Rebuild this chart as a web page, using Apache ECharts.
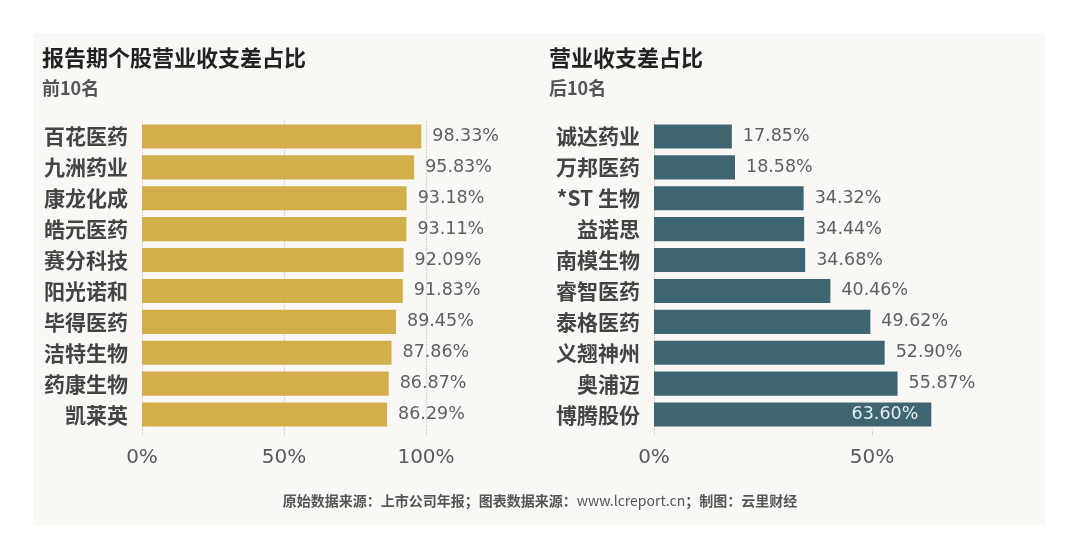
<!DOCTYPE html>
<html>
<head>
<meta charset="utf-8">
<script src="https://cdn.jsdelivr.net/npm/echarts@6/dist/echarts.min.js"></script>
<style>
  html, body { margin: 0; padding: 0; background: #fff; }
  #main { width: 1080px; height: 560px; }
</style>
</head>
<body>
<div id="main"></div>
<script>
// 前10名
var leftNames = ['百花医药', '九洲药业', '康龙化成', '皓元医药', '赛分科技', '阳光诺和', '毕得医药', '洁特生物', '药康生物', '凯莱英'];
var leftValues = [98.33, 95.83, 93.18, 93.11, 92.09, 91.83, 89.45, 87.86, 86.87, 86.29];
// 后10名
var rightNames = ['诚达药业', '万邦医药', '*ST 生物', '益诺思', '南模生物', '睿智医药', '泰格医药', '义翘神州', '奥浦迈', '博腾股份'];
var rightValues = [17.85, 18.58, 34.32, 34.44, 34.68, 40.46, 49.62, 52.90, 55.87, 63.60];
var leftTicks = [0, 50, 100];
var rightTicks = [0, 50];

var cjk = '"Noto Sans CJK SC", sans-serif';
var num = '"DejaVu Sans", sans-serif';

var chart = echarts.init(document.getElementById('main'));

function pct(v) {
    return v.toFixed(2) + '%';
}

// max 可以比最后一个刻度大，多出来的那一截不画刻度和网格线
function valueAxis(idx, ticks, max) {
    return {
        type: 'value',
        gridIndex: idx,
        min: ticks[0],
        max: max,
        interval: ticks[1] - ticks[0],
        axisLine: { show: false },
        axisTick: {
            show: true, length: 6, customValues: ticks,
            lineStyle: { color: '#c8c4bf', type: 'dotted' }
        },
        splitLine: {
            show: true, showMaxLine: max === ticks[ticks.length - 1],
            lineStyle: { color: '#c8c4bf', type: 'dotted', width: 1.2 }
        },
        axisLabel: {
            margin: 18,
            customValues: ticks,
            fontFamily: num,
            fontSize: 20,
            color: '#5a5a5a',
            formatter: function (v) { return v + '%'; }
        }
    };
}

function catAxis(idx, names) {
    return {
        type: 'category',
        gridIndex: idx,
        data: names,
        inverse: true,
        axisLine: { show: false },
        axisTick: { show: false },
        axisLabel: {
            margin: 14,
            fontFamily: cjk,
            fontWeight: 'bold',
            fontSize: 21,
            color: '#444'
        }
    };
}

function barData(values, insideFrom) {
    // 太长的柱子，标签放在柱子里面
    return values.map(function (v) {
        if (v > insideFrom) {
            return { value: v, label: { position: 'insideRight', distance: 13, color: '#e6eef0' } };
        }
        return v;
    });
}

function valueLabel() {
    return {
        show: true,
        position: 'right',
        distance: 11,
        fontFamily: num,
        fontSize: 17.5,
        color: '#5f5f5f',
        formatter: function (p) { return pct(p.value); }
    };
}

var option = {
    backgroundColor: '#ffffff',
    animation: false,
    graphic: [{
        type: 'rect',
        z: -100,
        shape: { x: 33, y: 33, width: 1012, height: 492 },
        style: { fill: '#faf8f5' }
    }, {
        type: 'text',
        left: 'center',
        top: 494,
        style: {
            text: '{b|原始数据来源：上市公司年报；图表数据来源：}{n|www.lcreport.cn}{b|；制图：云里财经}',
            rich: {
                b: { fontFamily: cjk, fontWeight: 'bold', fontSize: 14, fill: '#555' },
                n: { fontFamily: cjk, fontSize: 14, fill: '#555' }
            }
        }
    }],
    title: [{
        text: '报告期个股营业收支差占比',
        left: 37, top: 42,
        textStyle: { fontFamily: cjk, fontWeight: 'bold', fontSize: 22, color: '#222' }
    }, {
        text: '前10名',
        left: 37, top: 74,
        textStyle: { fontFamily: cjk, fontWeight: 'bold', fontSize: 18, color: '#555' }
    }, {
        text: '营业收支差占比',
        left: 544, top: 42,
        textStyle: { fontFamily: cjk, fontWeight: 'bold', fontSize: 22, color: '#222' }
    }, {
        text: '后10名',
        left: 544, top: 74,
        textStyle: { fontFamily: cjk, fontWeight: 'bold', fontSize: 18, color: '#555' }
    }],
    grid: [
        { left: 142, top: 121, width: 284, height: 309 },
        { left: 654, top: 121, width: 327, height: 309 }
    ],
    xAxis: [valueAxis(0, leftTicks, 100), valueAxis(1, rightTicks, 75)],
    yAxis: [catAxis(0, leftNames), catAxis(1, rightNames)],
    series: [{
        type: 'bar',
        xAxisIndex: 0,
        yAxisIndex: 0,
        data: barData(leftValues, 100),
        barCategoryGap: '22%',
        itemStyle: { color: '#d3af4c' },
        label: valueLabel()
    }, {
        type: 'bar',
        xAxisIndex: 1,
        yAxisIndex: 1,
        data: barData(rightValues, 60),
        barCategoryGap: '22%',
        itemStyle: { color: '#3e6570' },
        label: valueLabel()
    }]
};

chart.setOption(option);
</script>
</body>
</html>
